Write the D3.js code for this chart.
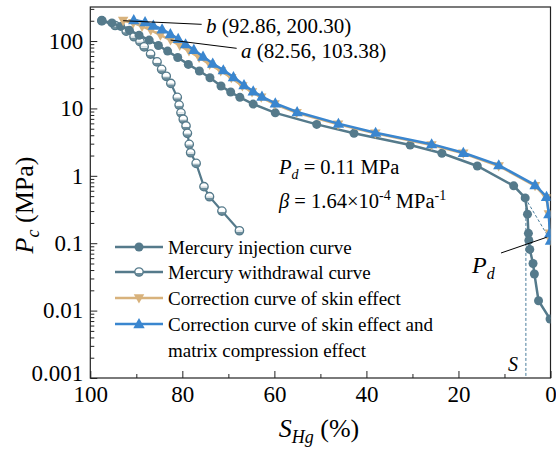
<!DOCTYPE html>
<html>
<head>
<meta charset="utf-8">
<script src="https://cdn.jsdelivr.net/npm/d3@7"></script>
<style>
  body { margin: 0; background: #fff; }
  svg text { font-family: "Liberation Serif", "Times New Roman", serif; fill: #000; }
</style>
</head>
<body>
<svg id="chart" width="556" height="452"></svg>
<script>
// Mercury injection curve (saturation %, pressure MPa)
const injS = [97.5, 95.3, 93.4, 91.5, 89.4, 87.2, 85.2, 83.2, 81.0, 78.7, 76.3, 74.0, 71.6, 69.5, 67.5, 64.6, 59.8, 50.8, 42.7, 30.5, 23.6, 15.9, 8.0, 5.5, 5.0, 4.8, 4.7, 4.5, 3.8, 3.5, 2.6, 0.1];
const injP = [200.3, 186, 165, 145, 122, 103.4, 86, 71, 57, 45, 36, 28.5, 21.5, 17.5, 14.6, 11.6, 8.6, 5.8, 4.27, 2.86, 2.16, 1.40, 0.71, 0.47, 0.27, 0.14, 0.11, 0.081, 0.050, 0.035, 0.014, 0.0075];

// Mercury withdrawal curve
const wdS = [97.5, 94.6, 92.2, 90.5, 89.2, 88.3, 86.9, 85.5, 84.5, 83.5, 82.5, 81.1, 80.7, 80.3, 79.8, 79.2, 78.9, 78.5, 78.2, 77.0, 75.3, 74.1, 71.4, 67.6];
const wdP = [200.3, 170, 140, 116, 98, 82, 64, 49, 38, 30, 23.5, 14.6, 11.2, 8.6, 6.9, 5.5, 4.27, 2.93, 2.2, 1.53, 0.69, 0.49, 0.30, 0.153];

// Correction curve of skin effect
const skS = [92.86, 90.66, 88.76, 86.86, 84.76, 82.56, 80.56, 78.56, 76.36, 74.06, 71.66, 69.36, 66.96, 64.86, 62.86, 59.96, 55.16, 46.16, 38.06, 25.86, 18.96, 11.26, 3.36, 0.86, 0.36, 0.16, 0];
const skP = [200.3, 186, 165, 145, 122, 103.38, 86, 71, 57, 45, 36, 28.5, 21.5, 17.5, 14.6, 11.6, 8.6, 5.8, 4.27, 2.86, 2.16, 1.40, 0.71, 0.47, 0.27, 0.14, 0.11];

// Correction curve of skin effect and matrix compression effect
const mcS = [90.56, 88.1, 86.3, 84.4, 82.6, 80.9, 79.3, 77.5, 75.5, 73.4, 71.1, 68.9, 66.6, 64.6, 62.7, 59.8, 55.06, 46.09, 38.01, 25.83, 18.94, 11.24, 3.35, 0.86, 0.36, 0.16, 0];
const mcP = [205, 192, 170, 150, 127, 108, 90, 74, 59, 46.5, 37, 29.3, 22.2, 18.0, 15.0, 11.9, 8.85, 5.95, 4.37, 2.95, 2.2, 1.44, 0.73, 0.49, 0.27, 0.14, 0.11];

// Axis ticks
const xTicks = [100, 80, 60, 40, 20, 0];
const xMinor = [90, 70, 50, 30, 10];
const yTicks = [0.001, 0.01, 0.1, 1, 10, 100];
const yTickLabels = ["0.001", "0.01", "0.1", "1", "10", "100"];

// Annotation anchors (S %, P MPa)
const sLine = [[5.35, 0.47], [5.35, 0.001]];
const tangentLine = [[5.5, 0.47], [0.5, 0.125]];
const pdLeader = [[10.75, 0.0716], [0.83, 0.1225]];
const bLeader = [[92.86, 200.3], [75.8, 177]];
const aLeader = [[82.56, 103.38], [68.2, 78]];

const cInj = "#557a8b", cSk = "#d8b27c", cMc = "#3a86cf";

const svg = d3.select("#chart");
const pLeft = 90.3, pRight = 550.5, pTop = 7, pBottom = 378;

const x = d3.scaleLinear().domain([100, 0]).range([pLeft, pRight]);
const y = d3.scaleLog().domain([0.001, 320]).range([pBottom, pTop]);

const zip = (a, b) => a.map((v, i) => [v, b[i]]);
const line = d3.line().x(d => x(d[0])).y(d => y(d[1]));

const defs = svg.append("defs");
defs.append("clipPath").attr("id", "plotclip").append("rect")
  .attr("x", pLeft).attr("y", pTop).attr("width", pRight - pLeft).attr("height", pBottom - pTop);

// Axes with inward ticks
svg.append("g").attr("transform", `translate(0,${pBottom})`)
  .call(d3.axisBottom(x).tickValues(xTicks).tickSize(-7).tickPadding(8).tickFormat(d3.format("d")));
svg.append("g").attr("transform", `translate(0,${pBottom})`)
  .call(d3.axisBottom(x).tickValues(xMinor).tickSize(-4).tickFormat(""));

const yMinor = [];
for (let e = -3; e <= 2; e++) for (let k = 2; k <= 9; k++) {
  const v = k * Math.pow(10, e);
  if (v <= 320) yMinor.push(v);
}
const yAxisG = svg.append("g").attr("transform", `translate(${pLeft},0)`)
  .call(d3.axisLeft(y).tickValues(yTicks).tickSize(-7).tickPadding(7)
    .tickFormat((d, i) => yTickLabels[i]));
svg.append("g").attr("transform", `translate(${pLeft},0)`)
  .call(d3.axisLeft(y).tickValues(yMinor).tickSize(-4).tickFormat(""));

svg.selectAll(".domain").remove();
svg.selectAll(".tick line").attr("stroke", "#222").attr("stroke-width", 1);
svg.selectAll(".tick text").attr("font-size", 23).attr("fill", "#000")
  .style("font-family", "'Liberation Serif', 'Times New Roman', serif");
// lift the bottom label a little so it clears the corner x label
yAxisG.selectAll(".tick text").filter(d => d === 0.001).attr("dy", "0.12em");

// Frame
svg.append("rect").attr("x", pLeft).attr("y", pTop).attr("width", pRight - pLeft).attr("height", pBottom - pTop)
  .attr("fill", "none").attr("stroke", "#222").attr("stroke-width", 1.2);

const plot = svg.append("g").attr("clip-path", "url(#plotclip)");

// Dashed guide lines
plot.append("path").attr("d", line(sLine)).attr("fill", "none")
  .attr("stroke", "#4a7d9c").attr("stroke-width", 1).attr("stroke-dasharray", "3,2");
plot.append("path").attr("d", line(tangentLine)).attr("fill", "none")
  .attr("stroke", "#4a7d9c").attr("stroke-width", 1).attr("stroke-dasharray", "3,2");

// Marker helpers
function triangle(g, cx, cy, r, up, color) {
  const pts = up
    ? [[cx, cy - r], [cx - r * 0.95, cy + r * 0.7], [cx + r * 0.95, cy + r * 0.7]]
    : [[cx, cy + r], [cx - r * 0.95, cy - r * 0.7], [cx + r * 0.95, cy - r * 0.7]];
  g.append("path").attr("d", "M" + pts.map(p => p.join(",")).join("L") + "Z").attr("fill", color);
}
function halfCircle(g, cx, cy, r) {
  g.append("circle").attr("cx", cx).attr("cy", cy).attr("r", r).attr("fill", "#fff")
    .attr("stroke", cInj).attr("stroke-width", 1.3);
  g.append("path").attr("d", `M${cx - r},${cy} A${r},${r} 0 0 0 ${cx + r},${cy} Z`)
    .attr("fill", cInj).attr("opacity", 0.85);
  g.append("line").attr("x1", cx - r + 1).attr("x2", cx + r - 1).attr("y1", cy + 0.5).attr("y2", cy + 0.5)
    .attr("stroke", "#fff").attr("stroke-width", 1);
}

const wd = zip(wdS, wdP), inj = zip(injS, injP), sk = zip(skS, skP), mc = zip(mcS, mcP);

plot.append("path").attr("d", line(wd)).attr("fill", "none").attr("stroke", cInj).attr("stroke-width", 2.2);
const gW = plot.append("g");
wd.forEach(d => halfCircle(gW, x(d[0]), y(d[1]), 4.2));

plot.append("path").attr("d", line(inj)).attr("fill", "none").attr("stroke", cInj).attr("stroke-width", 2.5);
plot.append("g").selectAll("circle").data(inj).join("circle")
  .attr("cx", d => x(d[0])).attr("cy", d => y(d[1])).attr("r", 4.5).attr("fill", cInj);

plot.append("path").attr("d", line(sk)).attr("fill", "none").attr("stroke", cSk).attr("stroke-width", 2.5);
const gS = plot.append("g");
sk.forEach(d => triangle(gS, x(d[0]), y(d[1]), 5.5, false, cSk));

plot.append("path").attr("d", line(mc)).attr("fill", "none").attr("stroke", cMc).attr("stroke-width", 2.5);
const gM = plot.append("g");
mc.forEach(d => triangle(gM, x(d[0]), y(d[1]), 6, true, cMc));

// Annotations
const ann = svg.append("g");
ann.append("path").attr("d", line(bLeader)).attr("stroke", "#000").attr("stroke-width", 1).attr("fill", "none");
ann.append("path").attr("d", line(aLeader)).attr("stroke", "#000").attr("stroke-width", 1).attr("fill", "none");
ann.append("path").attr("d", line(pdLeader)).attr("stroke", "#000").attr("stroke-width", 1).attr("fill", "none");

const tb = ann.append("text").attr("x", 206).attr("y", 33).attr("font-size", 21);
tb.append("tspan").attr("font-style", "italic").text("b");
tb.append("tspan").text(" (92.86, 200.30)");
const ta = ann.append("text").attr("x", 241).attr("y", 58).attr("font-size", 21);
ta.append("tspan").attr("font-style", "italic").text("a");
ta.append("tspan").text(" (82.56, 103.38)");

const tpd = ann.append("text").attr("x", 279).attr("y", 174).attr("font-size", 20.5);
tpd.append("tspan").attr("font-style", "italic").text("P");
tpd.append("tspan").attr("font-style", "italic").attr("font-size", 14).attr("dy", 5).text("d");
tpd.append("tspan").attr("dy", -5).text(" = 0.11 MPa");

const tbeta = ann.append("text").attr("x", 279).attr("y", 208).attr("font-size", 20.5);
tbeta.append("tspan").attr("font-style", "italic").text("β");
tbeta.append("tspan").text(" = 1.64×10");
tbeta.append("tspan").attr("font-size", 14).attr("dy", -8).text("-4");
tbeta.append("tspan").attr("dy", 8).text(" MPa");
tbeta.append("tspan").attr("font-size", 14).attr("dy", -8).text("-1");

const tP = ann.append("text").attr("x", 472).attr("y", 273).attr("font-size", 24);
tP.append("tspan").attr("font-style", "italic").text("P");
tP.append("tspan").attr("font-style", "italic").attr("font-size", 16).attr("dy", 6).text("d");

ann.append("text").attr("x", 508).attr("y", 371).attr("font-size", 20).attr("font-style", "italic").text("S");

// Legend
const legend = svg.append("g");
const legRows = [
  { label: "Mercury injection curve", color: cInj, kind: "dot" },
  { label: "Mercury withdrawal curve", color: cInj, kind: "half" },
  { label: "Correction curve of skin effect", color: cSk, kind: "down" },
  { label: "Correction curve of skin effect and", color: cMc, kind: "up" }
];
const legY = [247, 272, 298, 324];
legRows.forEach((r, i) => {
  const yy = legY[i];
  legend.append("line").attr("x1", 115).attr("x2", 163).attr("y1", yy).attr("y2", yy)
    .attr("stroke", r.color).attr("stroke-width", 2.5);
  if (r.kind === "dot") legend.append("circle").attr("cx", 139).attr("cy", yy).attr("r", 4.5).attr("fill", r.color);
  if (r.kind === "half") halfCircle(legend, 139, yy, 4.2);
  if (r.kind === "down") triangle(legend, 139, yy, 5.5, false, r.color);
  if (r.kind === "up") triangle(legend, 139, yy, 6, true, r.color);
  legend.append("text").attr("x", 168).attr("y", yy + 6.5).attr("font-size", 19).text(r.label);
});
legend.append("text").attr("x", 168).attr("y", 350 + 6.5).attr("font-size", 19).text("matrix compression effect");

// Axis titles
const xt = svg.append("text").attr("x", 319).attr("y", 437).attr("text-anchor", "middle").attr("font-size", 26);
xt.append("tspan").attr("font-style", "italic").text("S");
xt.append("tspan").attr("font-style", "italic").attr("font-size", 18).attr("dy", 6).text("Hg");
xt.append("tspan").attr("dy", -6).text(" (%)");

const yt = svg.append("text").attr("transform", "translate(33,205) rotate(-90)")
  .attr("text-anchor", "middle").attr("font-size", 26);
yt.append("tspan").attr("font-style", "italic").text("P");
yt.append("tspan").attr("font-style", "italic").attr("font-size", 18).attr("dy", 6).text("c");
yt.append("tspan").attr("dy", -6).text(" (MPa)");
</script>
</body>
</html>
